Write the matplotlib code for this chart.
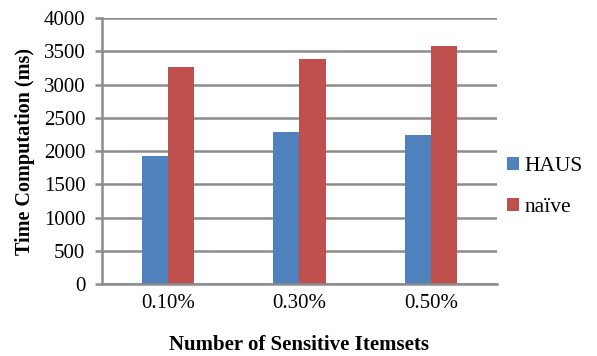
import numpy as np
import matplotlib.pyplot as plt

plt.rcParams['font.family'] = ['Liberation Serif', 'DejaVu Serif']

categories = ['0.10%', '0.30%', '0.50%']
haus = [1920, 2290, 2250]
naive = [3270, 3380, 3580]
series_names = ['HAUS', 'naïve']
colors = ['#4f81bd', '#c0504d']

fig = plt.figure(figsize=(5.97, 3.56), dpi=100)
ax = fig.add_axes([0.171, 0.202, 0.661, 0.747])

x = np.arange(len(categories))
w = 0.2
ax.bar(x - w / 2, haus, w, color=colors[0], label=series_names[0], zorder=3)
ax.bar(x + w / 2, naive, w, color=colors[1], label=series_names[1], zorder=3)

ax.set_xlim(-0.5, 2.5)
ax.set_ylim(0, 4000)
ax.set_yticks(np.arange(0, 4001, 500))
ax.set_xticks(x)
ax.set_xticklabels(categories)

ax.yaxis.grid(True, color='#8c8c8c', linewidth=1.8, zorder=0)
for s in ['top', 'right']:
    ax.spines[s].set_visible(False)
for s in ['left', 'bottom']:
    ax.spines[s].set_color('#8c8c8c')
    ax.spines[s].set_linewidth(1.8)
    ax.spines[s].set_zorder(4)
ax.tick_params(axis='y', length=5, width=1.8, color='#8c8c8c', labelsize=15, pad=7)
ax.tick_params(axis='x', length=0, labelsize=15, pad=7)

ax.set_ylabel('Time Computation (ms)', fontsize=14.5, fontweight='bold', labelpad=6)
ax.set_xlabel('Number of Sensitive Itemsets', fontsize=15, fontweight='bold', labelpad=16)

ax.legend(loc='center left', bbox_to_anchor=(0.977, 0.365), frameon=False, fontsize=15.5,
          handlelength=0.55, handleheight=0.55, handletextpad=0.25, labelspacing=1.05)

fig.savefig('out.png', dpi=100)
